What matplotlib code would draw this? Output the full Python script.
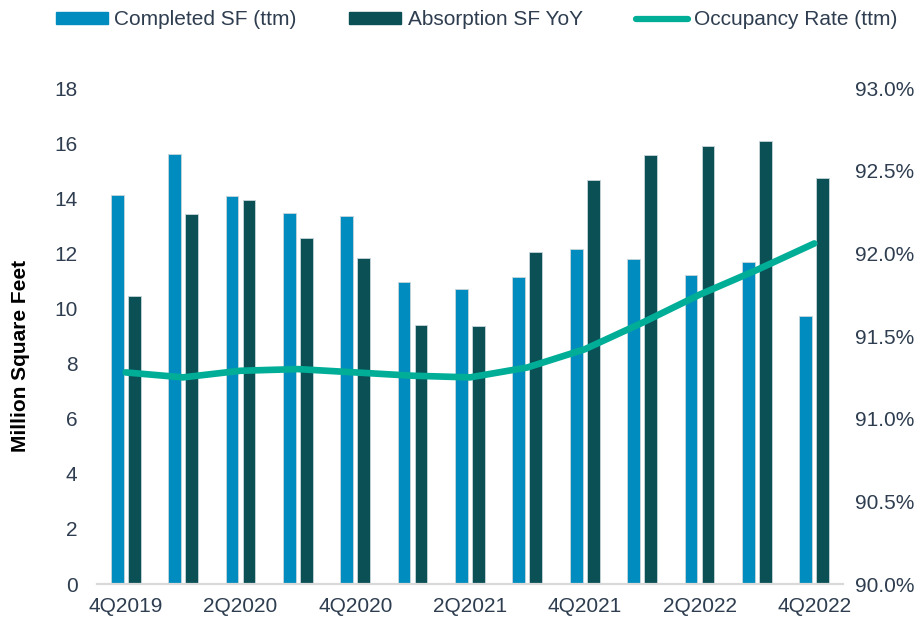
import numpy as np
import matplotlib
matplotlib.use('Agg')
import matplotlib.pyplot as plt
from matplotlib.patches import Patch
from matplotlib.lines import Line2D
from matplotlib.ticker import FuncFormatter

plt.rcParams['font.family'] = ['Liberation Sans', 'DejaVu Sans']

# 數據 (從圖上讀出來的)
quarters = ['4Q2019', '1Q2020', '2Q2020', '3Q2020', '4Q2020', '1Q2021', '2Q2021',
            '3Q2021', '4Q2021', '1Q2022', '2Q2022', '3Q2022', '4Q2022']
completed_sf = [14.13, 15.62, 14.08, 13.48, 13.37, 10.97, 10.71,
                11.13, 12.16, 11.81, 11.23, 11.67, 9.73]
absorption_sf = [10.44, 13.43, 13.95, 12.57, 11.82, 9.39, 9.38,
                 12.05, 14.65, 15.58, 15.90, 16.07, 14.74]
occupancy = [91.28, 91.25, 91.29, 91.30, 91.28, 91.26, 91.25,
             91.31, 91.42, 91.58, 91.75, 91.90, 92.06]

c_comp = '#008CBE'
c_abs = '#0A5055'
c_occ = '#00AE98'
c_txt = '#2E3D4F'

fig = plt.figure(figsize=(9.19, 6.2), dpi=100)
ax = fig.add_axes([0.1055, 0.058, 0.8118, 0.8])
ax2 = ax.twinx()

x = np.arange(len(quarters))
w = 0.223
ax.bar(x - 0.148, completed_sf, w, color=c_comp, edgecolor='#C9D6DC', linewidth=0.6, zorder=2)
ax.bar(x + 0.148, absorption_sf, w, color=c_abs, edgecolor='#C9D6DC', linewidth=0.6, zorder=2)

ax2.plot(x, occupancy, color=c_occ, linewidth=4.8, solid_capstyle='round', solid_joinstyle='round')

ax.set_xlim(-0.5, len(quarters) - 0.5)
ax.set_ylim(0, 18)
ax.set_yticks(np.arange(0, 19, 2))
ax2.set_ylim(90, 93)
ax2.set_yticks(np.arange(90, 93.01, 0.5))
ax2.yaxis.set_major_formatter(FuncFormatter(lambda v, p: '%.1f%%' % v))

ax.set_xticks(x[::2])
ax.set_xticklabels(quarters[::2])

for a in (ax, ax2):
    for s in a.spines.values():
        s.set_visible(False)
    a.tick_params(length=0, labelsize=15, colors=c_txt)
ax.spines['bottom'].set_visible(True)
ax.spines['bottom'].set_color('#D9D9D9')
ax.spines['bottom'].set_linewidth(1.6)
ax.tick_params(axis='y', pad=14)
ax.tick_params(axis='x', pad=9)
ax2.tick_params(axis='y', pad=9)

ax.set_ylabel('Million Square Feet', fontsize=15, fontweight='bold', color='black')
ax.yaxis.set_label_coords(-0.09, 0.46)

handles = [Patch(color=c_comp), Patch(color=c_abs),
           Line2D([0], [0], color=c_occ, linewidth=4.5, solid_capstyle='round')]
labels = ['Completed SF (ttm)', 'Absorption SF YoY', 'Occupancy Rate (ttm)']
fig.legend(handles, labels, loc='center', bbox_to_anchor=(0.5185, 0.968), ncol=3,
           frameon=False, fontsize=15, labelcolor=c_txt, handlelength=2.5,
           handleheight=0.5, handletextpad=0.3, columnspacing=2.55)

fig.savefig('out.png', dpi=100)
